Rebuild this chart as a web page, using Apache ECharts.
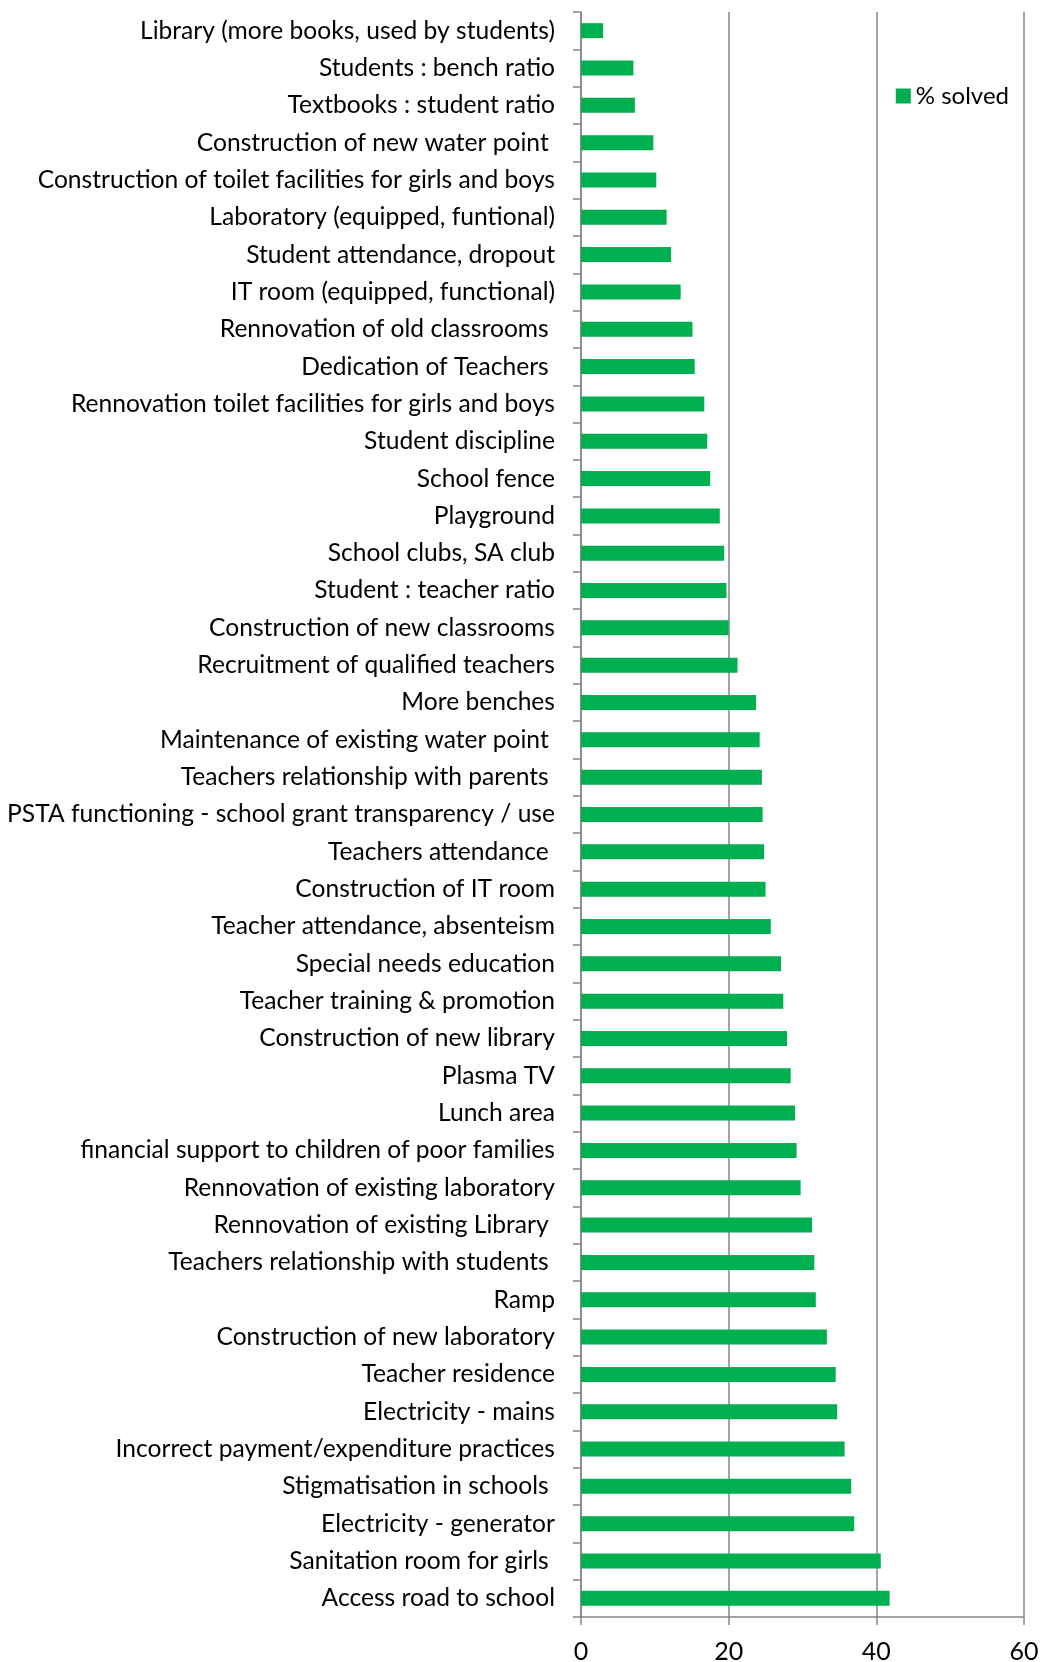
<!DOCTYPE html>
<html>
<head>
<meta charset="utf-8">
<script src="https://cdn.jsdelivr.net/npm/echarts@6/dist/echarts.min.js"></script>
<style>
  html, body { margin: 0; padding: 0; background: #fff; }
  #chart { width: 1043px; height: 1662px; }
</style>
</head>
<body>
<div id="chart"></div>
<script>
// categories, top to bottom
var categories = [
  'Library (more books, used by students)',
  'Students : bench ratio',
  'Textbooks : student ratio',
  'Construction of new water point ',
  'Construction of toilet facilities for girls and boys',
  'Laboratory (equipped, funtional)',
  'Student attendance, dropout',
  'IT room (equipped, functional)',
  'Rennovation of old classrooms ',
  'Dedication of Teachers ',
  'Rennovation toilet facilities for girls and boys',
  'Student discipline',
  'School fence',
  'Playground',
  'School clubs, SA club',
  'Student : teacher ratio',
  'Construction of new classrooms',
  'Recruitment of qualified teachers',
  'More benches',
  'Maintenance of existing water point ',
  'Teachers relationship with parents ',
  'PSTA functioning - school grant transparency / use',
  'Teachers attendance ',
  'Construction of IT room',
  'Teacher attendance, absenteism',
  'Special needs education',
  'Teacher training & promotion',
  'Construction of new library',
  'Plasma TV',
  'Lunch area',
  'financial support to children of poor families',
  'Rennovation of existing laboratory',
  'Rennovation of existing Library ',
  'Teachers relationship with students ',
  'Ramp',
  'Construction of new laboratory',
  'Teacher residence',
  'Electricity - mains',
  'Incorrect payment/expenditure practices',
  'Stigmatisation in schools ',
  'Electricity - generator',
  'Sanitation room for girls ',
  'Access road to school'
];

// % solved
var solved = [
  3.0, 7.1, 7.3, 9.8, 10.2, 11.6, 12.2, 13.5, 15.1, 15.4,
  16.7, 17.1, 17.5, 18.8, 19.4, 19.7, 20.0, 21.2, 23.7, 24.2,
  24.5, 24.6, 24.8, 25.0, 25.7, 27.1, 27.4, 27.9, 28.4, 29.0,
  29.2, 29.75, 31.3, 31.6, 31.8, 33.3, 34.5, 34.7, 35.7, 36.6,
  37.0, 40.6, 41.8
];

var xTicks = { min: 0, max: 60, interval: 20 };

var myChart = echarts.init(document.getElementById('chart'));
myChart.setOption({
  animation: false,
  textStyle: { fontFamily: 'Lato' },
  grid: {
    left: 581,
    right: 19,
    top: 12,
    bottom: 45,
    containLabel: false,
    outerBoundsMode: 'none'
  },
  legend: {
    right: 29,
    top: 79,
    itemWidth: 15,
    itemHeight: 15,
    itemGap: 6,
    icon: 'rect',
    data: ['% solved'],
    textStyle: { fontSize: 24, color: '#000', fontFamily: 'Lato' }
  },
  xAxis: {
    type: 'value',
    min: xTicks.min,
    max: xTicks.max,
    interval: xTicks.interval,
    axisLine: { show: true, lineStyle: { color: '#868686', width: 1.5 } },
    axisTick: { show: true, length: 8, lineStyle: { color: '#868686', width: 1.5 } },
    axisLabel: { color: '#000', fontSize: 25, margin: 22, fontFamily: 'Lato' },
    splitLine: { show: true, lineStyle: { color: '#868686', width: 1.5 } }
  },
  yAxis: {
    type: 'category',
    inverse: true,
    data: categories,
    axisLine: { show: true, lineStyle: { color: '#868686', width: 1.5 } },
    axisTick: { show: true, length: 8, alignWithLabel: false, lineStyle: { color: '#868686', width: 1.5 } },
    axisLabel: { color: '#000', fontSize: 24.6, margin: 26, interval: 0, fontFamily: 'Lato' },
    splitLine: { show: false }
  },
  series: [{
    name: '% solved',
    type: 'bar',
    data: solved,
    barWidth: 15,
    itemStyle: { color: '#00B050' }
  }]
});
</script>
</body>
</html>
